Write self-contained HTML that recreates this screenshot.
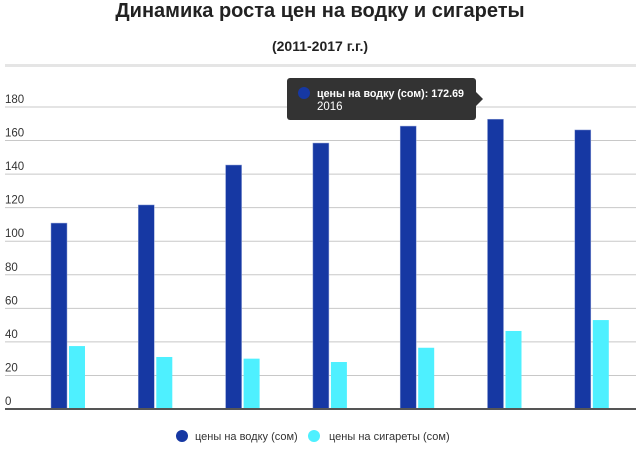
<!DOCTYPE html>
<html><head><meta charset="utf-8"><style>
body{margin:0;background:#fff;font-family:"Liberation Sans",sans-serif;}
#wrap{position:relative;width:640px;height:460px;overflow:hidden}
.title{position:absolute;left:0;width:640px;text-align:center;font-weight:bold;color:#222}
</style></head><body>
<div id="wrap">
<div class="title" style="top:0;font-size:20px">Динамика роста цен на водку и сигареты</div>
<div class="title" style="top:38px;font-size:14px">(2011-2017 г.г.)</div>
<svg id="svg" width="640" height="460" style="position:absolute;left:0;top:0"></svg>
</div>
<script>
const years=["2011","2012","2013","2014","2015","2016","2017"];
const vodka=[110.8,121.6,145.4,158.5,168.6,172.69,166.3];
const cigs=[37.5,31,30,28,36.5,46.5,53];
const ticks=[0,20,40,60,80,100,120,140,160,180];
const NS="http://www.w3.org/2000/svg";
const svg=document.getElementById('svg');
const y0=409,scale=1.678;
function y(v){return y0-v*scale;}
function x(i){return 51+i*87.3;}
function mk(t,a){const e=document.createElementNS(NS,t);for(const k in a)e.setAttribute(k,a[k]);svg.appendChild(e);return e;}
let r=mk('rect',{x:5,y:64,width:631,height:3,fill:'#e5e5e5'});


ticks.forEach(t=>{
 if(t>0){const l=mk('line',{x1:5,x2:636,y1:y(t),y2:y(t),stroke:'#c8c8c8','stroke-width':1});
 
 }
 const tx=mk('text',{x:5,y:y(t)-4,'font-size':11.5,fill:'#333','font-family':'Liberation Sans, sans-serif'});
 tx.textContent=t;
 
 
});
years.forEach((yr,i)=>{
 const b=mk('rect',{x:x(i),y:y(vodka[i]),width:16,height:vodka[i]*scale,fill:'#1638a3',stroke:'#8fa0d6','stroke-width':0.5});
 
 
 const c=mk('rect',{x:x(i)+18,y:y(cigs[i]),width:16,height:cigs[i]*scale,fill:'#4ef0ff'});
 
 
});
let base=mk('rect',{x:5,y:408,width:631,height:2,fill:'#555'});


const g=mk('g',{});


function ga(t,a){const e=document.createElementNS(NS,t);for(const k in a)e.setAttribute(k,a[k]);g.appendChild(e);return e;}
ga('rect',{x:287,y:78,width:189,height:42,rx:3,fill:'#333'});
ga('path',{d:'M476,92 L483,99 L476,106 Z',fill:'#333'});
ga('circle',{cx:304,cy:93,r:6,fill:'#1638a3'});
const t1=ga('text',{x:317,y:97,'font-size':11,'font-weight':'bold',fill:'#fff',textLength:147,lengthAdjust:'spacingAndGlyphs'});t1.textContent='цены на водку (сом): '+vodka[5];
const t2=ga('text',{x:317,y:110,'font-size':11.5,fill:'#fff'});t2.textContent=years[5];
[[182,'#1638a3','цены на водку (сом)',195],[314,'#4ef0ff','цены на сигареты (сом)',329]].forEach(([cx,col,lab,tx],k)=>{
 const c=mk('circle',{cx:cx,cy:436,r:6,fill:col});
 
 
 const t=mk('text',{x:tx,y:440,'font-size':11,fill:'#333'});
 t.textContent=lab;
 
 
});
</script>
</body></html>
